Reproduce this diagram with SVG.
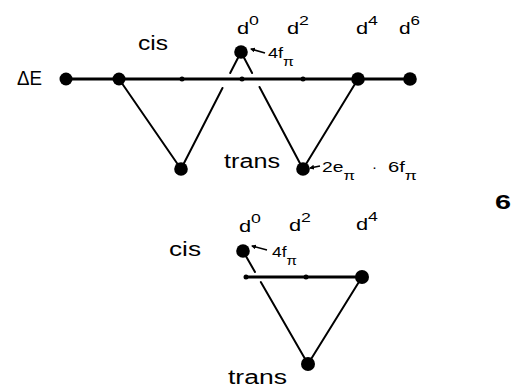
<svg xmlns="http://www.w3.org/2000/svg" width="514" height="387" viewBox="0 0 514 387">
<style>
text{font-family:"Liberation Sans",Arial,Helvetica,sans-serif;fill:#000}
.lbl{font-size:20px}
.d{font-size:16px}
.sup{font-size:13px}
.small{font-size:15px}
.sub{font-size:13px}
.dot{fill:#000}
.tick{fill:#000}
.axis{stroke:#000;stroke-width:2.8;fill:none}
.ln{stroke:#000;stroke-width:2;fill:none;stroke-linecap:round}
.arr{stroke:#000;stroke-width:1.6;fill:none;marker-end:url(#ah)}
</style>
<defs>
<marker id="ah" viewBox="0 0 10 10" refX="8" refY="5" markerWidth="5" markerHeight="5" orient="auto" markerUnits="userSpaceOnUse">
<path d="M0,0 L10,5 L0,10 z" fill="#000"/>
</marker>
</defs>
<rect width="514" height="387" fill="#fff"/>

<g id="connectors">
<line class="axis" x1="66" y1="79" x2="410" y2="79"/>
<line class="ln" x1="119" y1="79" x2="181" y2="169"/>
<line class="ln" x1="181" y1="169" x2="222.5" y2="88"/>
<line class="ln" x1="230.2" y1="73" x2="241" y2="52"/>
<line class="ln" x1="241" y1="52" x2="252.1" y2="73"/>
<line class="ln" x1="259.5" y1="87" x2="303" y2="169"/>
<line class="ln" x1="358" y1="79" x2="303" y2="169"/>
<line class="axis" x1="246" y1="277" x2="362" y2="277"/>
<line class="ln" x1="243" y1="251" x2="255" y2="272"/>
<line class="ln" x1="260.8" y1="282" x2="308" y2="364"/>
<line class="ln" x1="362" y1="277" x2="308" y2="364"/>
<circle class="tick" cx="182" cy="79" r="2.5"/>
<circle class="tick" cx="242" cy="79" r="2.5"/>
<circle class="tick" cx="303" cy="79" r="2.5"/>
<circle class="tick" cx="246" cy="277" r="2.5"/>
<circle class="tick" cx="306" cy="277" r="2.5"/>
<line class="arr" x1="265" y1="53" x2="251" y2="49"/>
<line class="arr" x1="320" y1="166" x2="310" y2="168"/>
<line class="arr" x1="267" y1="250" x2="252" y2="246"/>
</g>

<g id="dE">
<circle class="dot" cx="66" cy="79" r="6.5"/>
<text class="lbl" x="17" y="85" font-size="18" textLength="25" lengthAdjust="spacingAndGlyphs">ΔE</text>
</g>
<g id="cis-top">
<circle class="dot" cx="119" cy="79" r="6.5"/>
<text class="lbl" x="138" y="50" textLength="30" lengthAdjust="spacingAndGlyphs">cis</text>
</g>
<g id="d0-top">
<circle class="dot" cx="241" cy="52" r="6.8"/>
<text class="d" x="237" y="34" textLength="22" lengthAdjust="spacingAndGlyphs">d<tspan class="sup" dy="-9">0</tspan></text>
<text class="small" x="268" y="58" textLength="26" lengthAdjust="spacingAndGlyphs">4f<tspan class="sub" dy="8">π</tspan></text>
</g>
<g id="d2-top">
<text class="d" x="287" y="34" textLength="22" lengthAdjust="spacingAndGlyphs">d<tspan class="sup" dy="-9">2</tspan></text>
</g>
<g id="d4-top">
<circle class="dot" cx="358" cy="79" r="6.8"/>
<text class="d" x="356" y="34" textLength="22" lengthAdjust="spacingAndGlyphs">d<tspan class="sup" dy="-9">4</tspan></text>
</g>
<g id="d6-top">
<circle class="dot" cx="410" cy="79" r="6.8"/>
<text class="d" x="399" y="34" textLength="21" lengthAdjust="spacingAndGlyphs">d<tspan class="sup" dy="-9">6</tspan></text>
</g>
<g id="trans1-top">
<circle class="dot" cx="181" cy="169" r="6.8"/>
</g>
<g id="trans2-top">
<circle class="dot" cx="303" cy="169" r="6.8"/>
<text class="lbl" x="224" y="168" textLength="56" lengthAdjust="spacingAndGlyphs">trans</text>
<text class="small" x="322" y="172" textLength="33" lengthAdjust="spacingAndGlyphs">2e<tspan class="sub" dy="8">π</tspan></text>
<text class="small" x="372" y="172">·</text>
<text class="small" x="388" y="172" textLength="29" lengthAdjust="spacingAndGlyphs">6f<tspan class="sub" dy="8">π</tspan></text>
</g>

<g id="label-6">
<text x="495" y="209" font-size="21" font-weight="bold" textLength="16" lengthAdjust="spacingAndGlyphs">6</text>
</g>

<g id="d0-bottom">
<circle class="dot" cx="243" cy="251" r="6.8"/>
<text class="lbl" x="169" y="256" textLength="32" lengthAdjust="spacingAndGlyphs">cis</text>
<text class="d" x="239" y="232" textLength="22" lengthAdjust="spacingAndGlyphs">d<tspan class="sup" dy="-9">0</tspan></text>
<text class="small" x="272" y="257" textLength="25" lengthAdjust="spacingAndGlyphs">4f<tspan class="sub" dy="8">π</tspan></text>
</g>
<g id="d2-bottom">
<text class="d" x="289" y="231" textLength="22" lengthAdjust="spacingAndGlyphs">d<tspan class="sup" dy="-9">2</tspan></text>
</g>
<g id="d4-bottom">
<circle class="dot" cx="362" cy="277" r="7"/>
<text class="d" x="356" y="230" textLength="22" lengthAdjust="spacingAndGlyphs">d<tspan class="sup" dy="-9">4</tspan></text>
</g>
<g id="trans-bottom">
<circle class="dot" cx="308" cy="364" r="7"/>
<text class="lbl" x="228" y="384" textLength="59" lengthAdjust="spacingAndGlyphs">trans</text>
</g>
</svg>
